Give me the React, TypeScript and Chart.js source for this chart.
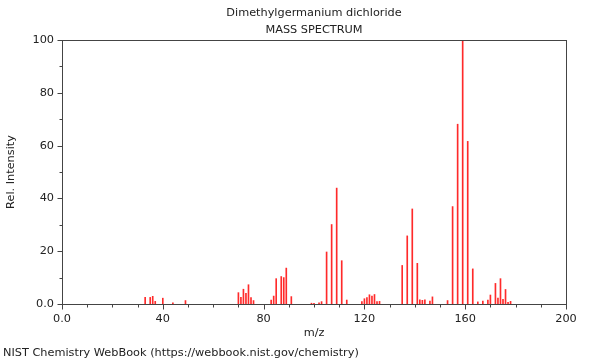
import React, { useEffect, useRef } from "react";
import { Chart, registerables } from "chart.js";

Chart.register(...registerables);

const TITLE = "Dimethylgermanium dichloride";
const SUBTITLE = "MASS SPECTRUM";
const X_TITLE = "m/z";
const Y_TITLE = "Rel. Intensity";
const FOOTER = "NIST Chemistry WebBook (https://webbook.nist.gov/chemistry)";

const mz = [
  33, 35, 36, 37, 40, 44, 49,
  70, 71, 72, 73, 74, 75, 76,
  83, 84, 85, 87, 88, 89, 91,
  99, 100, 102, 103, 105, 107, 109, 111, 113,
  119, 120, 121, 122, 123, 124, 125, 126,
  135, 137, 139, 141, 142, 143, 144, 146, 147,
  153, 155, 157, 159, 161, 163, 165, 167, 169, 170, 172, 173, 174, 175, 176, 177, 178,
];
const intensity = [
  2.5, 2.5, 2.9, 1.0, 2.2, 0.4, 1.3,
  4.3, 2.5, 5.6, 4.0, 7.3, 2.4, 1.3,
  1.5, 3.0, 9.6, 10.4, 10.0, 13.6, 2.8,
  0.3, 0.3, 0.4, 0.9, 19.7, 30.1, 43.9, 16.4, 1.5,
  0.9, 2.0, 2.4, 3.5, 3.0, 3.6, 0.9, 1.0,
  14.6, 25.8, 36.0, 15.4, 1.6, 1.4, 1.6, 1.1, 2.7,
  1.3, 36.9, 68.1, 100, 61.6, 13.3, 0.8, 1.1, 1.5, 3.4, 7.8, 2.2, 9.6, 1.8, 5.5, 0.6, 1.0,
];

const X_MIN = 0;
const X_MAX = 200;
const X_LABEL_STEP = 40;
const X_MINOR_STEP = 10;
const Y_MIN = 0;
const Y_MAX = 100;
const Y_LABEL_STEP = 20;
const Y_MINOR_STEP = 10;

const FONT_FAMILY = '"DejaVu Sans", sans-serif';
const TEXT_COLOR = "#222";
const AXIS_COLOR = "#444";

const decorPlugin = {
  id: "decor",
  afterDraw(chart: any) {
    const { ctx, chartArea, scales } = chart;
    const xs = scales.x;
    const ys = scales.y;
    ctx.save();
    ctx.strokeStyle = AXIS_COLOR;
    ctx.lineWidth = 1;
    ctx.strokeRect(
      Math.round(chartArea.left) + 0.5,
      Math.round(chartArea.top) + 0.5,
      Math.round(chartArea.right - chartArea.left),
      Math.round(chartArea.bottom - chartArea.top)
    );
    ctx.beginPath();
    for (let v = X_MIN; v <= X_MAX; v += X_MINOR_STEP) {
      const px = Math.round(xs.getPixelForValue(v)) + 0.5;
      const len = v % X_LABEL_STEP === 0 ? 5 : 3;
      const b = Math.round(chartArea.bottom) + 0.5;
      ctx.moveTo(px, b);
      ctx.lineTo(px, b + len);
    }
    for (let v = Y_MIN; v <= Y_MAX; v += Y_MINOR_STEP) {
      const py = Math.round(ys.getPixelForValue(v)) + 0.5;
      const len = v % Y_LABEL_STEP === 0 ? 5 : 3;
      const l = Math.round(chartArea.left) + 0.5;
      ctx.moveTo(l, py);
      ctx.lineTo(l - len, py);
    }
    ctx.stroke();
    ctx.fillStyle = TEXT_COLOR;
    ctx.font = "11.3px " + FONT_FAMILY;
    ctx.textAlign = "center";
    ctx.textBaseline = "middle";
    const cx = (chartArea.left + chartArea.right) / 2;
    ctx.fillText(TITLE, cx, 13);
    ctx.fillText(SUBTITLE, cx, 30);
    ctx.fillText(X_TITLE, cx, 333);
    ctx.save();
    ctx.translate(11, (chartArea.top + chartArea.bottom) / 2);
    ctx.rotate(-Math.PI / 2);
    ctx.fillText(Y_TITLE, 0, 0);
    ctx.restore();
    ctx.textAlign = "left";
    ctx.fillText(FOOTER, 3, 353);
    ctx.restore();
  },
};

export default function App() {
  const ref = useRef<HTMLCanvasElement | null>(null);
  useEffect(() => {
    document.body.style.margin = "0";
    const canvas = ref.current;
    if (!canvas) return;
    const chart = new Chart(canvas, {
      type: "bar",
      data: {
        datasets: [
          {
            data: mz.map((m, i) => ({ x: m, y: intensity[i] })),
            backgroundColor: "#ff2a2a",
            borderWidth: 0,
            barThickness: 1,
          },
        ],
      },
      options: {
        animation: false,
        responsive: false,
        devicePixelRatio: 1,
        layout: { padding: { top: 40, right: 34, left: 0, bottom: 0 } },
        plugins: {
          legend: { display: false },
          tooltip: { enabled: false },
          title: { display: false },
        },
        scales: {
          x: {
            type: "linear",
            min: X_MIN,
            max: X_MAX,
            offset: false,
            grid: { display: false, drawTicks: false, offset: false },
            border: { display: false },
            ticks: {
              stepSize: X_LABEL_STEP,
              padding: 8,
              color: TEXT_COLOR,
              font: { family: FONT_FAMILY, size: 11.3 },
              maxRotation: 0,
              callback: (v: any) => (v === 0 ? "0.0" : String(v)),
            },
            afterFit: (s: any) => {
              s.height = 56;
            },
          },
          y: {
            type: "linear",
            min: Y_MIN,
            max: Y_MAX,
            grid: { display: false, drawTicks: false },
            border: { display: false },
            ticks: {
              stepSize: Y_LABEL_STEP,
              padding: 8,
              color: TEXT_COLOR,
              font: { family: FONT_FAMILY, size: 11.3 },
              callback: (v: any) => (v === 0 ? "0.0" : String(v)),
            },
            afterFit: (s: any) => {
              s.width = 62;
            },
          },
        },
      },
      plugins: [decorPlugin],
    });
    return () => chart.destroy();
  }, []);
  return (
    <div style={{ width: 600, height: 360, position: "relative" }}>
      <canvas ref={ref} width={600} height={360} style={{ display: "block" }} />
    </div>
  );
}
